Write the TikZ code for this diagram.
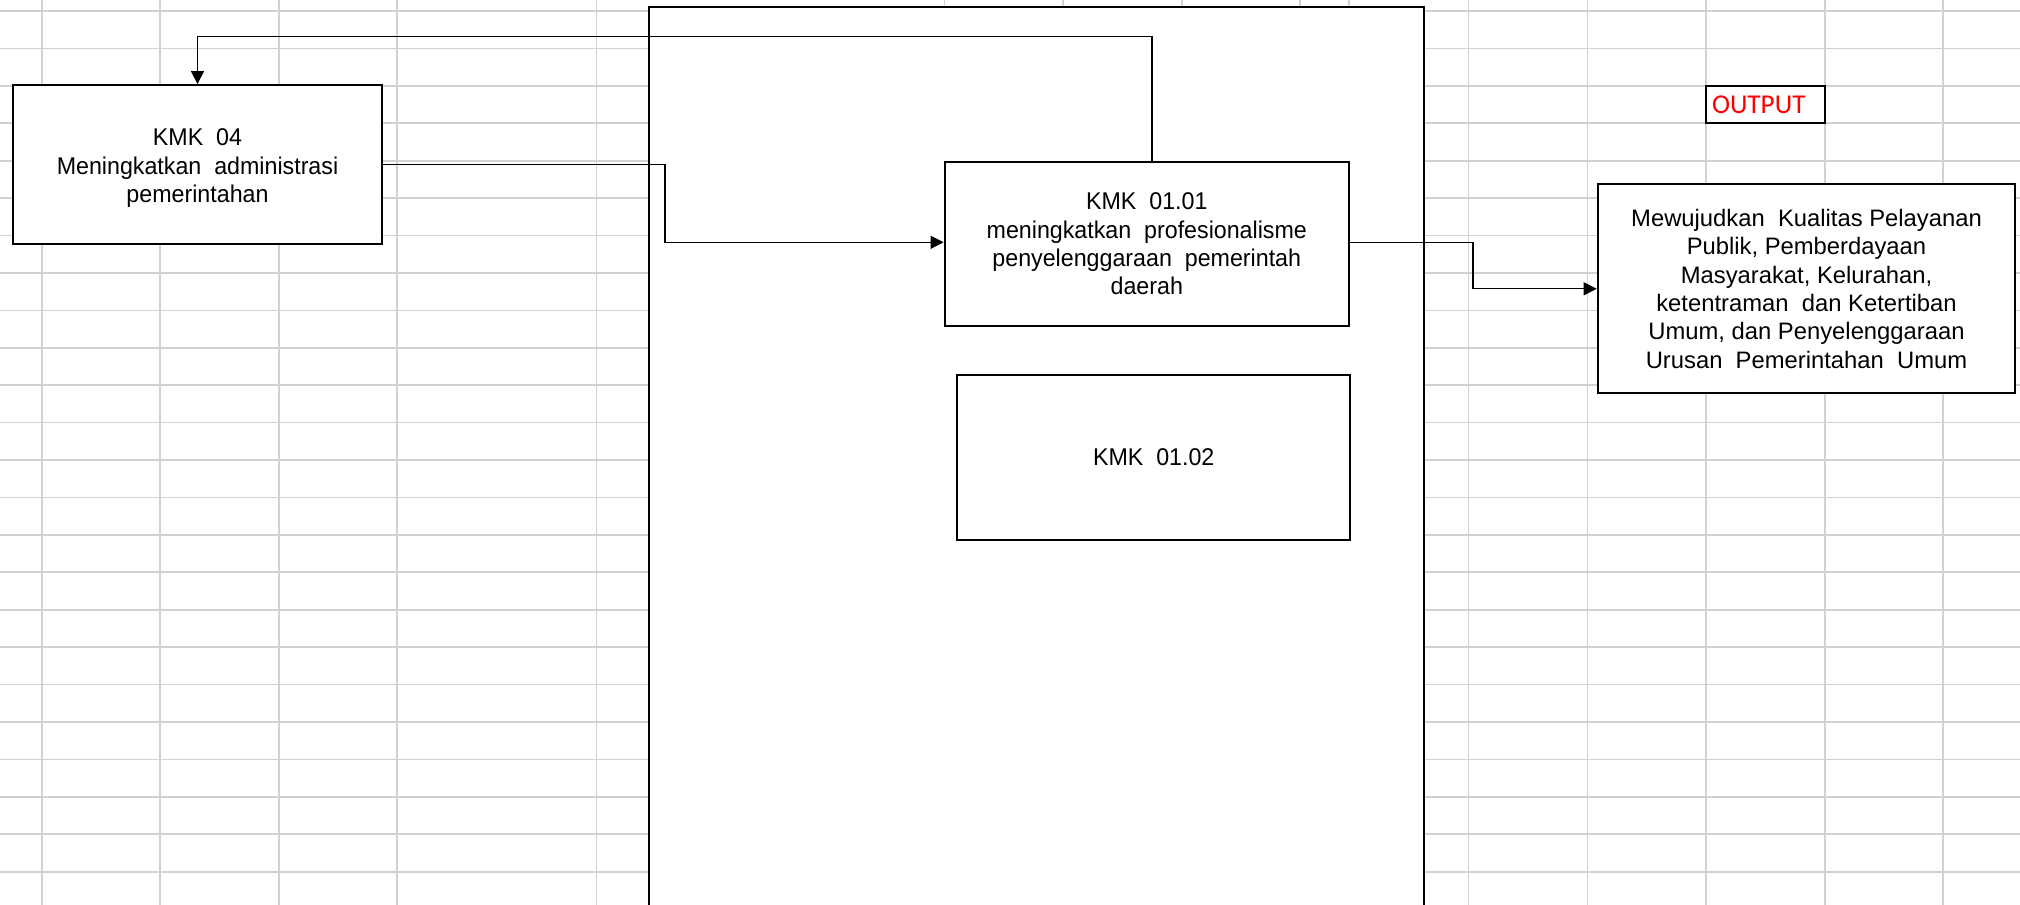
\documentclass[tikz,border=0pt]{standalone}
\usepackage{fontspec}
\setmainfont{Liberation Sans}
\newfontfamily\narrowfont[FakeStretch=0.96]{Liberation Sans}
\newfontfamily\calfont{Carlito}
\usetikzlibrary{arrows.meta}
\definecolor{gridgray}{RGB}{210,210,210}
\definecolor{outred}{RGB}{255,0,0}
\begin{document}
\begin{tikzpicture}[x=0.5pt,y=-0.5pt,
  gridline/.style={draw=gridgray, line width=0.85pt},
  kbox/.style={draw, line width=1pt, fill=white, align=center, inner sep=0pt,
    font=\narrowfont\fontsize{12.1}{14.2}\selectfont},
  obox/.style={draw, line width=1pt, fill=white, align=center, inner sep=0pt,
    font=\fontsize{11.9}{14.2}\selectfont},
  conn/.style={line width=0.6pt, -{Triangle[length=6.5pt,width=6.5pt]}},
  ]
\useasboundingbox (0,0) rectangle (2020,905);
\clip (0,0) rectangle (2020,905);
\fill[white] (0,0) rectangle (2020,905);
% spreadsheet grid
\foreach \k in {0,...,23}{
  \pgfmathsetmacro{\yy}{11+37.42*\k}
  \draw[gridline] (0,\yy) -- (2020,\yy);
}
\foreach \xx in {41.9,159.8,279,396.9,596.6,944.6,1063,1182,1300,1349,1468.5,1587.5,1706,1825,1943}{
  \draw[gridline] (\xx,0) -- (\xx,905);
}
% large frame
\node[draw, line width=1pt, fill=white, minimum width=387.2pt, minimum height=500pt,
  inner sep=0pt, anchor=north west] (frame) at (648.3,6) {};
% boxes
\node[kbox, minimum width=184.5pt, minimum height=79.6pt] (k04) at (197.5,164.7)
  {\rule{0pt}{12pt}KMK\ \ 04\\Meningkatkan\ \ administrasi\\pemerintahan};
\node[kbox, minimum width=202.2pt, minimum height=82pt] (k0101) at (1146.8,244)
  {KMK\ \ 01.01\\meningkatkan\ \ profesionalisme\\penyelenggaraan\ \ pemerintah\\daerah};
\node[kbox, minimum width=196.3pt, minimum height=82.5pt] (k0102) at (1153.7,457.5)
  {\raisebox{-2.5pt}{KMK\ \ 01.02}};
\node[obox, minimum width=208.8pt, minimum height=104.5pt] (out) at (1806.5,288.8)
  {Mewujudkan\ \ Kualitas Pelayanan\\Publik, Pemberdayaan\\Masyarakat, Kelurahan,\\ketentraman\ \ dan Ketertiban\\Umum, dan Penyelenggaraan\\Urusan\ \ Pemerintahan\ \ Umum};
\node[draw, line width=1pt, fill=white, minimum height=18.5pt, text width=53.5pt,
  inner xsep=3pt, inner ysep=0pt, align=left, text=outred,
  font=\calfont\fontsize{13.6}{15}\selectfont] (lbl) at (1765.5,104.5) {OUTPUT};
% connectors
\coordinate (fb) at (0,36.7);
\draw[conn] (k04.east) -- ++(282,0) |- ([yshift=0.85pt]k0101.west);
\draw[conn] ([xshift=2.6pt]k0101.north) |- (fb -| k04.north) -- (k04.north);
\draw[conn] ([yshift=0.85pt]k0101.east) -- ++(123,0) |- (out.west);
\end{tikzpicture}
\end{document}
